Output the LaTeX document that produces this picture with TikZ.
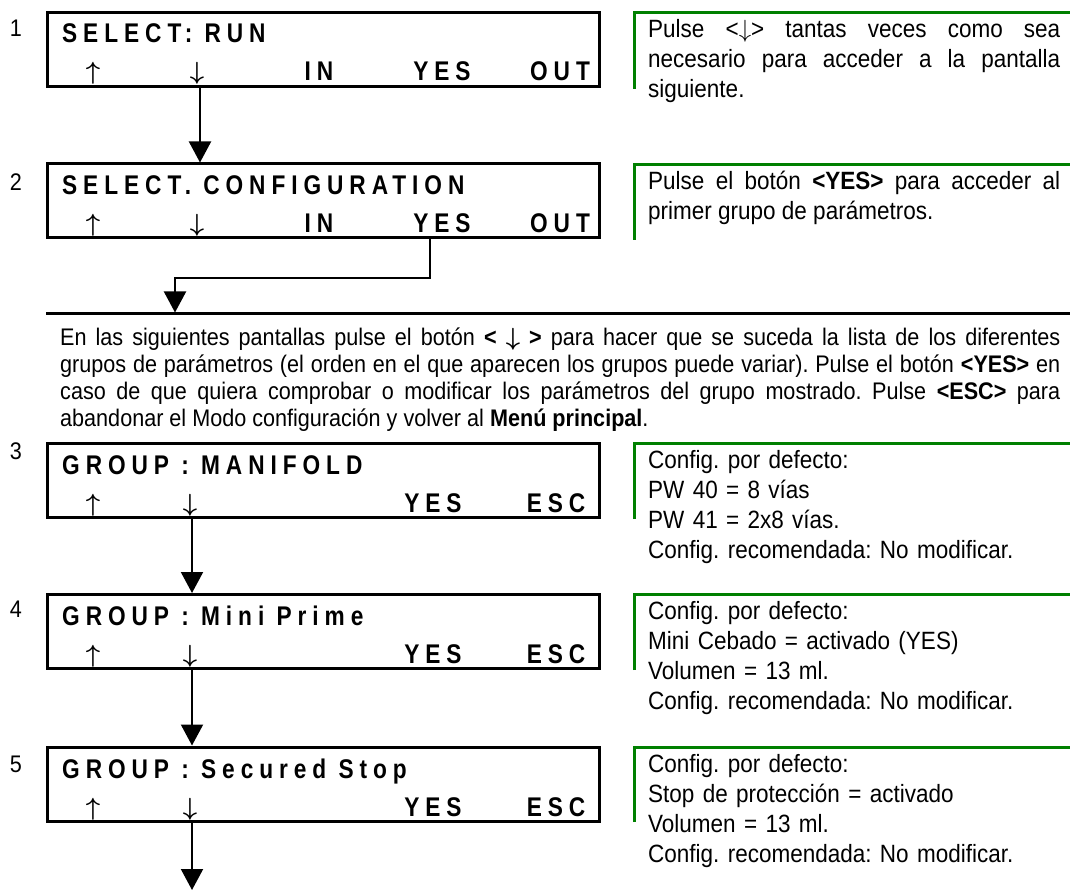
\documentclass[tikz,border=0pt]{standalone}
\usepackage{amsmath}
\usepackage{fontspec}
\usetikzlibrary{arrows.meta}
\setmainfont{Liberation Sans}[FakeStretch=0.9]
\newfontfamily\lcdfont{Liberation Sans}[FakeStretch=0.84,LetterSpace=22]
\definecolor{dkgreen}{RGB}{0,128,0}
\newcommand{\upk}{$\boldsymbol{\uparrow}$}
\newcommand{\dnk}{$\boldsymbol{\downarrow}$}
\tikzset{
  lcdbox/.style={draw, line width=3pt, minimum width=552pt, minimum height=74pt, inner sep=0pt},
  lcdtxt/.style={inner sep=0pt, anchor=base west, font=\lcdfont\bfseries\fontsize{27}{30}\selectfont},
  lcdkey/.style={inner sep=0pt, anchor=base, font=\lcdfont\bfseries\fontsize{27}{30}\selectfont},
  lcdarr/.style={inner sep=0pt, anchor=base, font=\fontsize{29}{30}\selectfont},
  numlbl/.style={inner sep=0pt, font=\fontsize{24}{26}\selectfont},
  gline/.style={draw=dkgreen, line width=3pt, line join=miter},
  gtxt/.style={inner sep=0pt, anchor=base west, text width=412pt, font=\fontsize{25}{30}\selectfont},
  ptxt/.style={inner sep=0pt, anchor=base west, text width=1000pt, align=justify, font=\fontsize{24}{27.3}\selectfont},
  conn/.style={line width=2pt, line join=miter, -{Triangle[length=21pt,width=22pt]}},
  rule/.style={line width=3pt}
}
\begin{document}
\frenchspacing
\begin{tikzpicture}[x=1pt,y=-1pt]
\useasboundingbox[fill=white] (0,0) rectangle (1070,890);
% helper coordinates
\coordinate (xa) at (200,0);
\coordinate (xb) at (430,0);
\coordinate (xc) at (192,0);
% LCD boxes
\node[lcdbox] (b1) at (323.5,49.5) {};
\node[lcdbox] (b2) at (323.5,201) {};
\node[lcdbox] (b3) at (323.5,480.5) {};
\node[lcdbox] (b4) at (323.5,631.5) {};
\node[lcdbox] (b5) at (323.5,784) {};
% numbers
\node[numlbl] (n1) at (16,28) {1};
\node[numlbl] (n2) at (16,182) {2};
\node[numlbl] (n3) at (16,451) {3};
\node[numlbl] (n4) at (16,609) {4};
\node[numlbl] (n5) at (16,764) {5};
% box 1
\node[lcdtxt] (t1) at (62,43) {SELECT: RUN};
\node[lcdarr] (u1) at (93,80) {\upk};
\node[lcdarr] (d1) at (197,80) {\dnk};
\node[lcdkey] (i1) at (319,81) {IN};
\node[lcdkey] (y1) at (442,81) {YES};
\node[lcdkey] (o1) at (560,81) {OUT};
% box 2
\node[lcdtxt] (t2) at (62,195) {SELECT. CONFIGURATION};
\node[lcdarr] (u2) at (93,232) {\upk};
\node[lcdarr] (d2) at (197,232) {\dnk};
\node[lcdkey] (i2) at (319,233) {IN};
\node[lcdkey] (y2) at (442,233) {YES};
\node[lcdkey] (o2) at (560,233) {OUT};
% box 3
\node[lcdtxt] (t3) at (62,474) {GROUP : MANIFOLD};
\node[lcdarr] (u3) at (93,511) {\upk};
\node[lcdarr] (d3) at (190,511) {\dnk};
\node[lcdkey] (y3) at (433,512) {YES};
\node[lcdkey] (e3) at (556,512) {ESC};
% box 4
\node[lcdtxt] (t4) at (62,625) {GROUP : Mini Prime};
\node[lcdarr] (u4) at (93,662) {\upk};
\node[lcdarr] (d4) at (190,662) {\dnk};
\node[lcdkey] (y4) at (433,663) {YES};
\node[lcdkey] (e4) at (556,663) {ESC};
% box 5
\node[lcdtxt] (t5) at (62,778) {GROUP : Secured Stop};
\node[lcdarr] (u5) at (93,815) {\upk};
\node[lcdarr] (d5) at (190,815) {\dnk};
\node[lcdkey] (y5) at (433,816) {YES};
\node[lcdkey] (e5) at (556,816) {ESC};
% green note frames
\draw[gline] (634.5,89) -- (634.5,12.5) -- (1070,12.5);
\draw[gline] (634.5,240) -- (634.5,164.5) -- (1070,164.5);
\draw[gline] (634.5,519) -- (634.5,443.5) -- (1070,443.5);
\draw[gline] (634.5,670) -- (634.5,594.5) -- (1070,594.5);
\draw[gline] (634.5,822) -- (634.5,747.5) -- (1070,747.5);
% notes
\node[gtxt, align=justify] (g1) at (648,38) {Pulse <$\downarrow$> tantas veces como sea\linebreak necesario para acceder a la pantalla\linebreak siguiente.};
\node[gtxt, align=justify] (g2) at (648,190) {Pulse el botón \textbf{<YES>} para acceder al\linebreak primer grupo de parámetros.};
\node[gtxt, align=left] (g3) at (648,468) {Config. por defecto:\\PW 40 = 8 vías\\PW 41 = 2x8 vías.\\Config. recomendada: No modificar.};
\node[gtxt, align=left] (g4) at (648,619) {Config. por defecto:\\Mini Cebado = activado (YES)\\Volumen = 13 ml.\\Config. recomendada: No modificar.};
\node[gtxt, align=left] (g5) at (648,772) {Config. por defecto:\\Stop de protección = activado\\Volumen = 13 ml.\\Config. recomendada: No modificar.};
% paragraph with top rule
\draw[rule] (46,314) -- (1070,314);
\coordinate (ptop) at (175,312.5);
\node[ptxt] (p) at (60,345) {En las siguientes pantallas pulse el botón \textbf{< $\boldsymbol{\downarrow}$ >} para hacer que se suceda la lista de los diferentes\linebreak grupos de parámetros (el orden en el que aparecen los grupos puede variar). Pulse el botón \textbf{<YES>} en\linebreak caso de que quiera comprobar o modificar los parámetros del grupo mostrado. Pulse \textbf{<ESC>} para\linebreak abandonar el Modo configuración y volver al \textbf{Menú principal}.};
% connectors
\coordinate (k1) at (430,278);
\coordinate (k2) at (175,278);
\coordinate (endpt) at (192,890);
\draw[conn] (b1.south -| xa) -- (b2.north -| xa);
\draw[conn] (b2.south -| xb) -- (k1) -- (k2) -- (ptop);
\draw[conn] (b3.south -| xc) -- (b4.north -| xc);
\draw[conn] (b4.south -| xc) -- (b5.north -| xc);
\draw[conn] (b5.south -| xc) -- (endpt);
\end{tikzpicture}
\end{document}
